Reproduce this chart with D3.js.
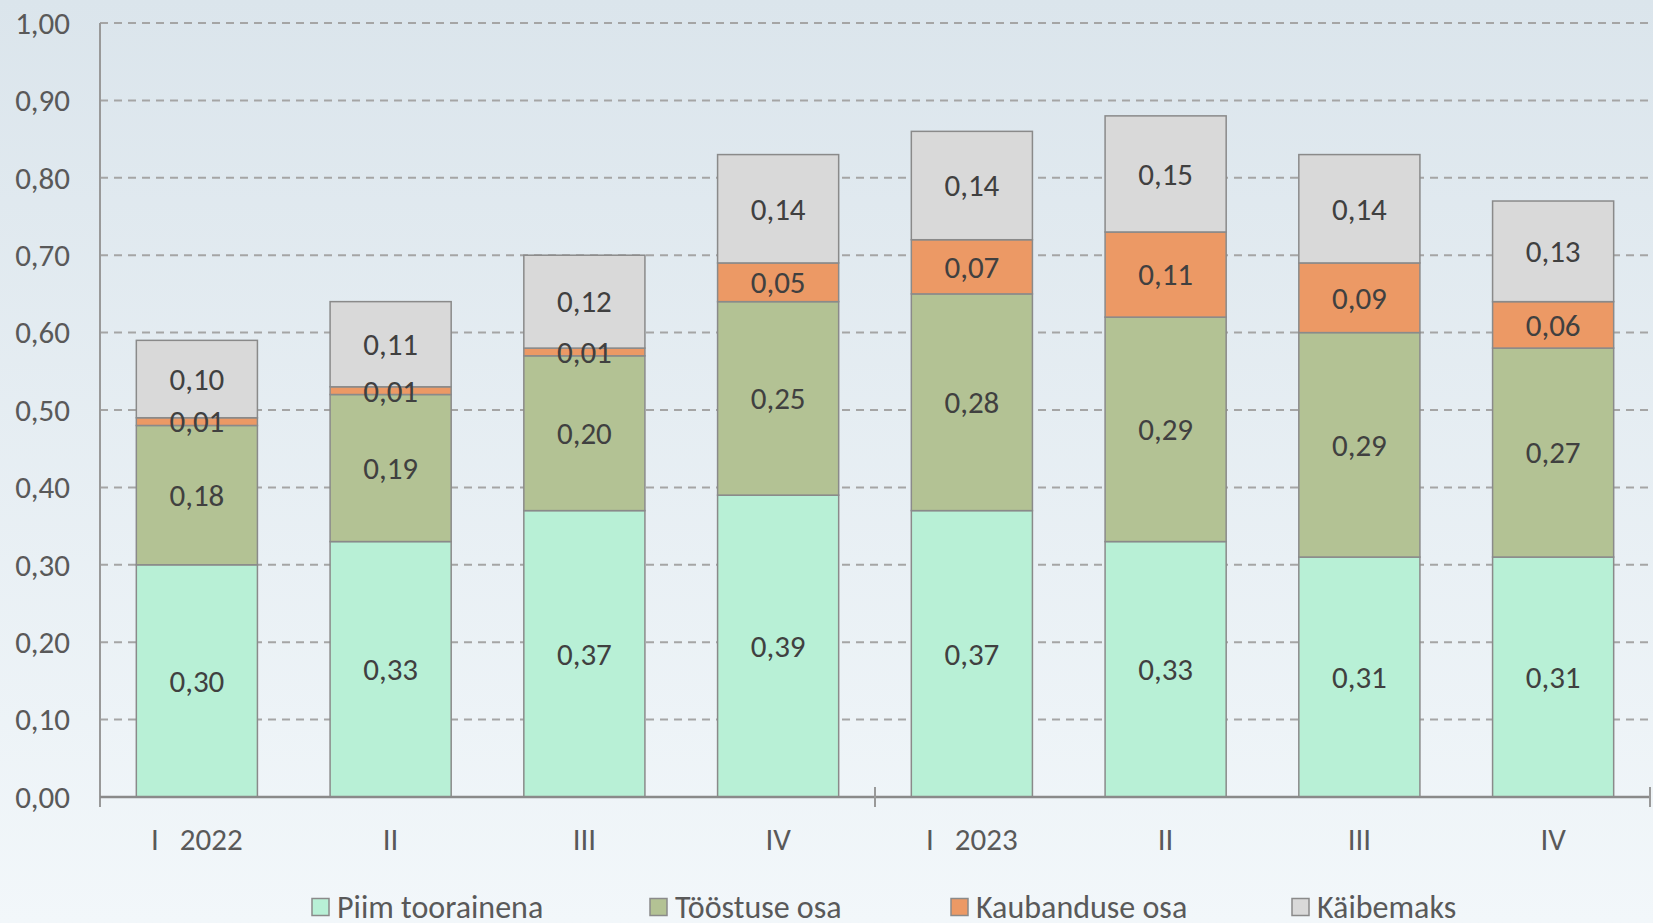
<!DOCTYPE html>
<html><head><meta charset="utf-8">
<script src="https://cdn.jsdelivr.net/npm/d3@7"></script>
<style>
html,body{margin:0;padding:0;}
body{width:1653px;height:923px;overflow:hidden;}
text{font-family:Carlito,Calibri,Lato,sans-serif;}
</style></head>
<body>
<svg id="c" width="1653" height="923"></svg>
<script>
const categories = ["I   2022","II","III","IV","I   2023","II","III","IV"];
const seriesNames = ["Piim toorainena","Tööstuse osa","Kaubanduse osa","Käibemaks"];
const piim = [0.30,0.33,0.37,0.39,0.37,0.33,0.31,0.31];
const toostus = [0.18,0.19,0.20,0.25,0.28,0.29,0.29,0.27];
const kaubandus = [0.01,0.01,0.01,0.05,0.07,0.11,0.09,0.06];
const kaibemaks = [0.10,0.11,0.12,0.14,0.14,0.15,0.14,0.13];
const yTicks = [0,0.1,0.2,0.3,0.4,0.5,0.6,0.7,0.8,0.9,1.0];
const colors = ["#b8f0d6","#b3c294","#ec9965","#d9d9d9"];

(function(){
const svg = d3.select("#c");
const defs = svg.append("defs");
const g = defs.append("linearGradient").attr("id","bg").attr("x1",0).attr("y1",0).attr("x2",0).attr("y2",1);
g.append("stop").attr("offset","0%").attr("stop-color","#dbe5ec");
g.append("stop").attr("offset","100%").attr("stop-color","#f2f7fa");
svg.append("rect").attr("width",1653).attr("height",923).attr("fill","url(#bg)");

const pL=100,pR=1650,pT=23,pB=797;
const FS=31;
const x = d3.scaleBand().domain(d3.range(categories.length)).range([pL,pR]).paddingInner(0.375).paddingOuter(0.1875);
const y = d3.scaleLinear().domain([0,1]).range([pB,pT]);
const fmt = v => d3.format(".2f")(v).replace(".",",");

svg.append("g").selectAll("line").data(yTicks.filter(d=>d>0)).join("line")
  .attr("x1",pL).attr("x2",pR).attr("y1",d=>y(d)).attr("y2",d=>y(d))
  .attr("stroke","#a5a5a5").attr("stroke-width",2).attr("stroke-dasharray","8,6");

svg.append("g").selectAll("text").data(yTicks).join("text")
  .attr("x",70).attr("y",d=>y(d)).attr("dy","0.35em").attr("text-anchor","end")
  .attr("font-size",FS).attr("fill","#595959").text(fmt);

const rows = categories.map((c,i)=>({i,s0:piim[i],s1:toostus[i],s2:kaubandus[i],s3:kaibemaks[i]}));
const stack = d3.stack().keys(["s0","s1","s2","s3"])(rows);

const gs = svg.append("g").selectAll("g").data(stack).join("g").attr("fill",(d,k)=>colors[k]);
gs.selectAll("rect").data(d=>d).join("rect")
  .attr("x",d=>x(d.data.i)).attr("width",x.bandwidth())
  .attr("y",d=>y(d[1])).attr("height",d=>y(d[0])-y(d[1]))
  .attr("stroke","#8a8a8a").attr("stroke-width",1.5);

const lg = svg.append("g");
stack.forEach((s,k)=>{
  lg.selectAll(null).data(s).join("text")
    .attr("x",d=>x(d.data.i)+x.bandwidth()/2)
    .attr("y",d=>y((d[0]+d[1])/2)).attr("dy","0.35em")
    .attr("text-anchor","middle").attr("font-size",FS).attr("fill","#404040")
    .text(d=>fmt(d[1]-d[0]));
});

svg.append("line").attr("x1",pL).attr("x2",pL).attr("y1",pT).attr("y2",pB+10).attr("stroke","#999").attr("stroke-width",2);
svg.append("line").attr("x1",pL).attr("x2",pR).attr("y1",pB).attr("y2",pB).attr("stroke","#8a8a8a").attr("stroke-width",2.5);
[4,8].forEach(k=>{
  const xx = pL + k*x.step();
  svg.append("line").attr("x1",xx).attr("x2",xx).attr("y1",pB-10).attr("y2",pB+10).attr("stroke","#999").attr("stroke-width",2);
});

svg.append("g").selectAll("text").data(categories).join("text")
  .attr("x",(d,i)=>x(i)+x.bandwidth()/2).attr("y",839).attr("dy","0.35em")
  .attr("text-anchor","middle").attr("font-size",FS).attr("fill","#595959")
  .style("white-space","pre").attr("xml:space","preserve").text(d=>d);

const legX = [312,650,951,1292];
const leg = svg.append("g").selectAll("g").data(seriesNames).join("g")
  .attr("transform",(d,i)=>`translate(${legX[i]},907)`);
leg.append("rect").attr("x",0).attr("y",-8.5).attr("width",17).attr("height",17)
  .attr("fill",(d,i)=>colors[i]).attr("stroke","#8a8a8a").attr("stroke-width",1.5);
leg.append("text").attr("x",25).attr("dy","0.35em").attr("font-size",32).attr("fill","#595959").text(d=>d);
})();
</script>
</body></html>
